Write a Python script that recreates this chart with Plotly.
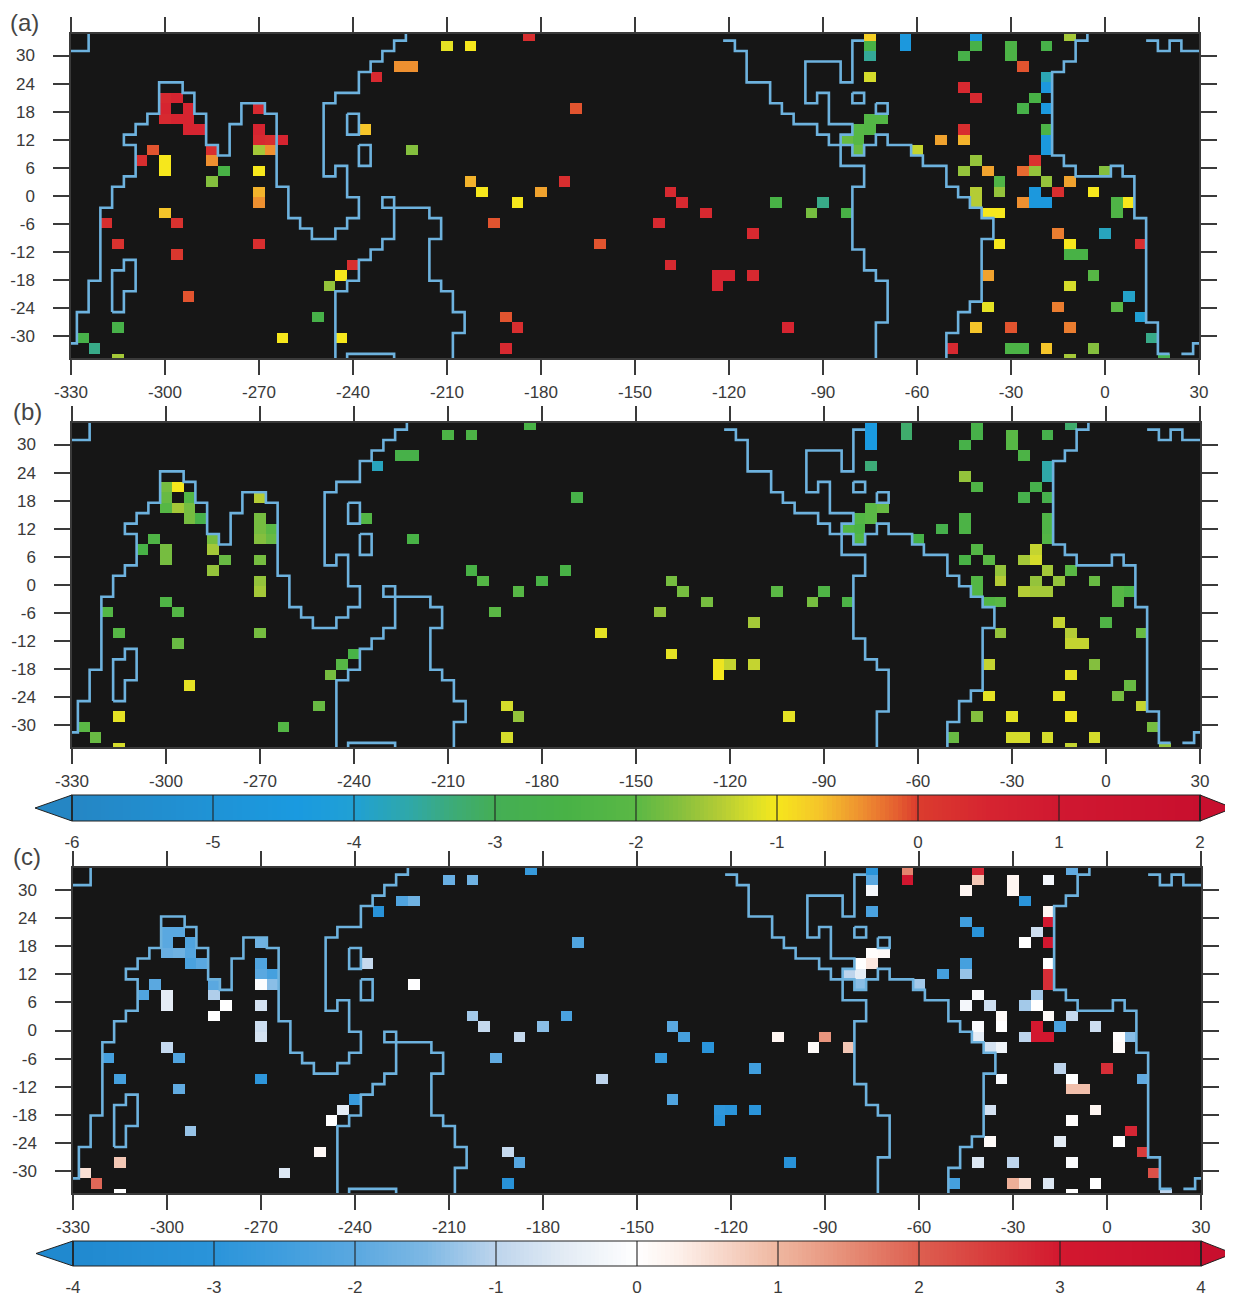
import numpy as np
import plotly.graph_objects as go

# ---- grid of the model (cell centres) ----
LON_START, LON_STEP, N_COLS = -330.0, 3.75, 97
LAT_START, LAT_STEP, N_ROWS = 34.30, -2.23, 32   # first row is index -1
LONS = [LON_START + LON_STEP * k for k in range(N_COLS)]
LATS = [LAT_START + LAT_STEP * r for r in range(N_ROWS)]

# ---- station cells: column, row (row -1 = top) and value in each panel ----
CELL_COLS = [
    39, 68, 71, 77, 85,
    32, 34, 68, 71, 77, 80, 83,
    68, 76, 80,
    28, 29, 81,
    26, 68, 83,
    76, 83,
    8, 9, 77, 82,
    8, 10, 16, 43, 81, 83,
    8, 9, 10, 68, 69,
    10, 11, 16, 25, 67, 68, 76, 83,
    16, 17, 18, 66, 67, 74, 76, 83,
    7, 12, 16, 17, 29, 67, 72, 83,
    6, 8, 12, 77, 82,
    8, 13, 16, 76, 78, 81, 82, 88,
    12, 34, 42, 79, 83, 85,
    16, 35, 40, 51, 77, 79, 82, 84, 87,
    16, 38, 52, 60, 64, 77, 81, 82, 83, 89, 90,
    8, 54, 63, 66, 78, 79, 89,
    3, 9, 36, 50,
    58, 84, 88,
    4, 16, 45, 79, 85, 91,
    9, 85, 86,
    24, 51,
    23, 55, 56, 58, 78, 87,
    22, 55, 85,
    10, 90,
    78, 84, 89,
    21, 37, 91,
    4, 38, 61, 77, 80, 85,
    1, 18, 23, 92,
    2, 37, 75, 80, 81, 83, 87,
    4, 85, 93,
]
CELL_ROWS = [
    -1, -1, -1, -1, -1,
    0, 0, 0, 0, 0, 0, 0,
    1, 1, 1,
    2, 2, 2,
    3, 3, 3,
    4, 4,
    5, 5, 5, 5,
    6, 6, 6, 6, 6, 6,
    7, 7, 7, 7, 7,
    8, 8, 8, 8, 8, 8, 8, 8,
    9, 9, 9, 9, 9, 9, 9, 9,
    10, 10, 10, 10, 10, 10, 10, 10,
    11, 11, 11, 11, 11,
    12, 12, 12, 12, 12, 12, 12, 12,
    13, 13, 13, 13, 13, 13,
    14, 14, 14, 14, 14, 14, 14, 14, 14,
    15, 15, 15, 15, 15, 15, 15, 15, 15, 15, 15,
    16, 16, 16, 16, 16, 16, 16,
    17, 17, 17, 17,
    18, 18, 18,
    19, 19, 19, 19, 19, 19,
    20, 20, 20,
    21, 21,
    22, 22, 22, 22, 22, 22,
    23, 23, 23,
    24, 24,
    25, 25, 25,
    26, 26, 26,
    27, 27, 27, 27, 27, 27,
    28, 28, 28, 28,
    29, 29, 29, 29, 29, 29, 29,
    30, 30, 30,
]
VALUES_A = [
    0.3, -0.8, -4.6, -4.6, -1.5,
    -1.1, -1.0, -2.5, -4.6, -2.6, -2.4, -2.6,
    -3.5, -2.6, -2.4,
    -0.4, -0.4, -0.1,
    0.4, -1.2, -3.7,
    0.4, -4.6,
    0.4, 0.5, 0.4, -2.5,
    0.5, 0.5, 0.4, -0.1, -2.6, -4.5,
    0.4, 0.5, 0.5, -2.2, -2.2,
    0.5, 0.5, 0.5, -0.7, -2.1, -2.2, 0.3, -2.4,
    0.4, 0.3, 0.5, -1.9, -2.1, -0.5, -0.6, -4.5,
    -0.1, 0.3, -1.5, -0.4, -1.7, -1.9, -1.3, -4.5,
    0.3, -1.0, -0.4, -1.6, 0.2,
    -1.0, -2.5, -1.0, -1.6, -0.5, -0.2, -1.6, -1.7,
    -1.7, -0.6, 0.3, -2.3, -1.6, -0.5,
    -0.6, -1.0, -0.5, 0.4, -1.4, -1.6, -4.6, 0.3, -1.0,
    -0.4, -1.0, 0.4, -2.5, -3.4, -1.4, -0.4, -4.6, -4.6, -2.3, -1.0,
    -0.7, 0.4, -1.8, -2.5, -1.0, -1.0, -2.3,
    0.3, 0.2, -0.1, 0.4,
    0.4, -0.3, -3.8,
    0.2, 0.3, -0.1, -1.0, -1.0, 0.3,
    0.1, -2.5, -2.5,
    0.3, 0.4,
    -1.0, 0.5, 0.5, 0.4, -0.5, -2.1,
    -1.6, 0.5, -1.2,
    -0.1, -3.9,
    -1.1, -0.3, -2.0,
    -2.6, -0.1, -4.0,
    -2.6, 0.3, 0.5, -0.7, -0.1, -0.3,
    -2.6, -1.0, -1.0, -3.4,
    -3.4, 0.4, 0.4, -2.4, -2.4, -0.7, -1.7,
    -1.5, -1.5, -2.8,
]
VALUES_B = [
    -2.5, -4.4, -3.2, -2.6, -3.2,
    -2.4, -2.4, -4.4, -3.2, -2.6, -2.0, -2.7,
    -4.4, -2.6, -2.1,
    -2.6, -2.6, -2.4,
    -3.8, -3.3, -3.6,
    -1.6, -3.6,
    -1.8, -1.0, -2.3, -2.7,
    -1.9, -2.2, -1.4, -2.6, -2.7, -2.7,
    -2.1, -1.5, -1.8, -2.0, -1.9,
    -1.8, -2.6, -1.8, -2.2, -2.2, -2.0, -2.4, -2.3,
    -1.8, -2.0, None, -2.2, -2.4, -2.7, -2.4, -2.3,
    -2.3, -1.8, -1.7, -1.9, -2.5, -2.2, -2.6, -2.2,
    -2.5, -1.8, -1.5, -2.2, -1.3,
    -1.8, -1.9, -1.8, -2.5, -2.0, -1.5, -1.2, None,
    -1.6, -2.5, -2.5, -1.6, -1.5, -2.0,
    -1.6, -2.2, -2.5, -1.8, -2.2, -1.4, -1.6, -1.6, -1.9,
    -1.5, -2.1, -1.8, -2.0, -2.3, -2.2, -1.4, -1.5, -1.5, -2.1, -2.4,
    -2.3, -1.8, -1.8, -2.4, -2.2, -2.0, -2.1,
    -2.2, -2.2, -2.0, -1.6,
    -1.5, -1.3, -2.3,
    -2.1, -1.8, -1.1, -1.6, -1.4, -1.9,
    -1.9, -1.3, -1.3,
    -2.5, -1.1,
    -2.1, -1.05, -1.3, -1.3, -1.3, -1.7,
    -1.8, -1.0, -1.1,
    -1.1, -1.9,
    -1.1, -1.1, -1.8,
    -1.9, -1.2, -1.3,
    -1.1, -1.6, -1.1, -1.7, -1.1, -1.05,
    -2.0, -2.2, None, -1.8,
    -1.9, -1.2, -1.9, -1.2, -1.2, -1.2, -1.2,
    -1.2, -1.3, -1.6,
]
VALUES_C = [
    -2.7, -3.0, 1.6, 2.8, -1.9,
    -1.8, -1.7, -2.0, 3.2, 0.8, 0.2, -0.2,
    -0.2, 0.2, 0.2,
    -2.2, -1.7, -3.0,
    -3.2, -2.3, 0.2,
    -2.5, 3.1,
    -2.0, -2.0, -3.1, -0.8,
    -2.0, -2.2, -1.7, -2.2, 0.0, 3.1,
    -1.8, -1.7, -2.1, 0.05, 0.1,
    -2.3, -2.0, -2.2, -0.9, 0.0, 0.4, -2.4, 0.0,
    -2.0, -2.4, None, -1.0, -0.5, -2.4, -1.3, 2.7,
    -2.0, -2.0, -0.05, -1.4, -0.02, -1.4, -1.2, 2.7,
    -2.2, -0.5, -1.1, -0.1, -1.2,
    -0.5, 0.0, -0.7, -0.2, -0.8, -1.2, 0.0, None,
    0.0, -1.2, -2.3, 0.1, 0.1, -0.9,
    -0.8, -0.9, -1.4, -2.0, -0.1, 0.0, 3.0, -2.3, -0.8,
    -0.7, -0.9, -2.4, 0.2, 1.4, -0.5, -1.0, 3.1, 3.1, 0.05, -1.4,
    -0.9, -3.0, 0.1, 0.8, -0.7, -0.3, 0.1,
    -2.4, -2.2, -1.9, -2.7,
    -2.5, -1.0, 2.7,
    -2.4, -2.9, -1.0, -0.1, 0.0, -1.9,
    -1.9, 0.9, 0.9,
    -2.7, -2.2,
    -0.5, -2.9, -3.0, -3.0, -0.7, 0.2,
    0.0, -3.0, 0.05,
    -1.3, 2.8,
    0.1, -0.5, 0.0,
    0.15, -0.9, 2.5,
    0.8, -2.1, -3.2, -0.6, -1.0, -0.1,
    0.5, -0.6, None, 2.2,
    1.9, -3.2, -2.4, 1.1, 0.5, -0.6, 0.0,
    0.0, 0.0, -1.0,
]

# ---- coastline, traced along the cell edges (edge column, edge row) ----
COAST_PATHS = [
    [(0.5, 1), (2, 1), (2, -1)],
    [(0.5, 29), (1, 29), (1, 26), (2, 26), (2, 23), (3, 23), (3, 16), (4, 16), (4, 14), (5, 14), (5, 13),
     (6, 13), (6, 10), (5, 10), (5, 9), (6, 9), (6, 8), (7, 8), (7, 7), (8, 7), (8, 4), (10, 4), (10, 5),
     (11, 5), (11, 7), (12, 7), (12, 10), (13, 10), (13, 11), (14, 11), (14, 8), (15, 8), (15, 6), (17, 6),
     (17, 7), (18, 7), (18, 14), (19, 14), (19, 17), (20, 17), (20, 18), (21, 18), (21, 19), (23, 19),
     (23, 18), (24, 18), (24, 17), (25, 17), (25, 15), (24, 15), (24, 12), (23, 12), (23, 13), (22, 13),
     (22, 6), (23, 6), (23, 5), (25, 5), (25, 3), (26, 3), (26, 2), (27, 2), (27, 1), (28, 1), (28, 0),
     (29, 0), (29, -1)],
    [(24, 7), (25, 7), (25, 9), (24, 9), (24, 7)],
    [(25, 10), (26, 10), (26, 12), (25, 12), (25, 10)],
    [(23, 31), (23, 24), (24, 24), (24, 23), (25, 23), (25, 21), (26, 21), (26, 20), (27, 20), (27, 19),
     (28, 19), (28, 15), (27, 15), (27, 16), (31, 16), (31, 17), (32, 17), (32, 19), (31, 19), (31, 23),
     (32, 23), (32, 24), (33, 24), (33, 26), (34, 26), (34, 28), (33, 28), (33, 31)],
    [(24, 31), (24, 30), (28, 30), (28, 31)],
    [(4, 26), (4, 22), (5, 22), (5, 21), (6, 21), (6, 24), (5, 24), (5, 26), (4, 26)],
    [(56, 0), (57, 0), (57, 1), (58, 1), (58, 4), (60, 4), (60, 6), (61, 6), (61, 7), (62, 7), (62, 8),
     (64, 8), (64, 9), (65, 9), (65, 10), (66, 10), (66, 12), (68, 12), (68, 14), (67, 14), (67, 20),
     (68, 20), (68, 22), (69, 22), (69, 23), (70, 23), (70, 27), (69, 27), (69, 31)],
    [(68, 0), (67, 0), (67, 4), (66, 4), (66, 2), (63, 2), (63, 6), (64, 6), (64, 5), (65, 5), (65, 8),
     (67, 8), (67, 9), (66, 9), (66, 10)],
    [(66, 10), (67, 10), (67, 11), (68, 11), (68, 10), (69, 10), (69, 9), (70, 9), (70, 10), (72, 10),
     (72, 11), (73, 11), (73, 12), (75, 12), (75, 14), (76, 14), (76, 15), (77, 15), (77, 16), (78, 16),
     (78, 17), (79, 17), (79, 19), (78, 19), (78, 25), (77, 25), (77, 26), (76, 26), (76, 28), (75, 28),
     (75, 31)],
    [(67, 5), (68, 5), (68, 6), (67, 6), (67, 5)],
    [(69, 6), (70, 6), (70, 7), (69, 7), (69, 6)],
    [(87, -1), (87, 0), (86, 0), (86, 2), (85, 2), (85, 3), (84, 3), (84, 11), (85, 11), (85, 12), (86, 12),
     (86, 13), (89, 13), (89, 12), (90, 12), (90, 13), (91, 13), (91, 17), (92, 17), (92, 27), (93, 27),
     (93, 30), (94, 30)],
    [(95, 30), (96, 30), (96, 29), (96.5, 29)],
    [(92, 0), (93, 0), (93, 1), (94, 1), (94, 0), (95, 0), (95, 1), (96.5, 1)],
]

# ---- axes and colour bars ----
X_TICKS = [-330, -300, -270, -240, -210, -180, -150, -120, -90, -60, -30, 0, 30]
Y_TICKS = [30, 24, 18, 12, 6, 0, -6, -12, -18, -24, -30]
PANEL_LABELS = ["(a)", "(b)", "(c)"]

AB_STOPS = [-6, -5, -4.4, -4, -3.6, -3.3, -3, -2.5, -2, -1.7, -1.4, -1.15, -1, -0.7, -0.4, -0.15, 0, 0.5, 1, 2]
AB_COLORS = ["#2586c4", "#1f93d6", "#1a9ae0", "#20a0d4", "#2fa8a8", "#3dab78", "#44ae55", "#48b246", "#5ab845",
             "#84bf3e", "#b4cc35", "#dde028", "#f6e71c", "#f5c52a", "#ee9030", "#e56030", "#db3c2e", "#d62430",
             "#d01830", "#c80f2e"]
C_STOPS = [-4, -3, -2.5, -2, -1.5, -1, -0.5, 0, 0.3, 0.7, 1, 1.5, 2, 2.5, 3, 4]
C_COLORS = ["#2089cf", "#2a94da", "#409ede", "#5aa8e0", "#7db8e4", "#bdd4ec", "#e4ecf5", "#ffffff", "#fdf0ea",
            "#f5cfc0", "#efb7a0", "#e68d76", "#dd5f50", "#d83c3c", "#d3182f", "#c80f2e"]
AB_TICKS = [-6, -5, -4, -3, -2, -1, 0, 1, 2]
C_TICKS = [-4, -3, -2, -1, 0, 1, 2, 3, 4]

PAGE_MARGIN = 8                         # the page's own body margin
W, H = 1233 - PAGE_MARGIN, 1293 - PAGE_MARGIN
FONT = "Liberation Sans, Arial, sans-serif"
COAST_COLOR = "#6db2de"
BG = "#161616"
INK = "#3a3a3a"


def px(x):
    return (x - PAGE_MARGIN) / W


def py(y):
    return 1 - (y - PAGE_MARGIN) / H


def colorscale(stops, colors):
    lo, hi = stops[0], stops[-1]
    return [[(s - lo) / (hi - lo), c] for s, c in zip(stops, colors)]


def grid(values):
    z = [[None] * N_COLS for _ in range(N_ROWS)]
    for k, r, v in zip(CELL_COLS, CELL_ROWS, values):
        z[r + 1][k] = v
    return z


coast_lon, coast_lat = [], []
for path in COAST_PATHS:
    for n, m in path:
        coast_lon.append(-331.875 + LON_STEP * n)
        coast_lat.append(33.185 + LAT_STEP * m)
    coast_lon.append(None)
    coast_lat.append(None)

fig = go.Figure()
panels = [
    (71, 1199, 34, 358, VALUES_A, AB_STOPS, AB_COLORS, (24, 23)),
    (72, 1200, 423, 747, VALUES_B, AB_STOPS, AB_COLORS, (27, 411)),
    (73, 1201, 868, 1193, VALUES_C, C_STOPS, C_COLORS, (27, 856)),
]
layout = {}
annotations = []
shapes = []
for i, (x0, x1, y0, y1, vals, stops, colors, lab) in enumerate(panels):
    s = "" if i == 0 else str(i + 1)
    shapes.append(dict(type="rect", xref=f"x{s} domain", yref=f"y{s} domain", x0=0, x1=1, y0=0, y1=1,
                       fillcolor=BG, line=dict(width=0), layer="below"))
    fig.add_trace(go.Heatmap(x=LONS, y=LATS, z=grid(vals), zmin=stops[0], zmax=stops[-1],
                             colorscale=colorscale(stops, colors), showscale=False,
                             hoverongaps=False, xaxis="x" + s, yaxis="y" + s))
    fig.add_trace(go.Scatter(x=coast_lon, y=coast_lat, mode="lines", showlegend=False, hoverinfo="skip",
                             line=dict(color=COAST_COLOR, width=2.6, shape="linear"),
                             xaxis="x" + s, yaxis="y" + s))
    layout["xaxis" + s] = dict(
        domain=[px(x0), px(x1)], range=[X_TICKS[0], X_TICKS[-1]], anchor="y" + s,
        tickmode="array", tickvals=X_TICKS, ticktext=[str(t) for t in X_TICKS],
        ticks="outside", ticklen=15, tickwidth=1.5, tickcolor=INK, ticklabelstandoff=3,
        showline=True, linecolor=INK, linewidth=1.5, mirror="ticks",
        showgrid=False, zeroline=False, tickfont=dict(family=FONT, size=17, color=INK))
    layout["yaxis" + s] = dict(
        domain=[py(y1), py(y0)], range=[-34.6, 34.6], anchor="x" + s,
        tickmode="array", tickvals=Y_TICKS, ticktext=[str(t) for t in Y_TICKS],
        ticks="outside", ticklen=16, tickwidth=1.5, tickcolor=INK, ticklabelstandoff=15,
        showline=True, linecolor=INK, linewidth=1.5, mirror="ticks",
        showgrid=False, zeroline=False, tickfont=dict(family=FONT, size=17, color=INK))
    annotations.append(dict(text=PANEL_LABELS[i], xref="paper", yref="paper", x=px(lab[0]), y=py(lab[1]),
                            xanchor="center", yanchor="middle", showarrow=False,
                            font=dict(family=FONT, size=24, color="#454545")))

bars = [
    (4, AB_STOPS, AB_COLORS, AB_TICKS, 72, 1200, 795, 821, 35, 1233),
    (5, C_STOPS, C_COLORS, C_TICKS, 73, 1201, 1241, 1266, 36, 1233),
]
for n, stops, colors, ticks, x0, x1, y0, y1, tip0, tip1 in bars:
    s = str(n)
    lo, hi = stops[0], stops[-1]
    per_px = (hi - lo) / (x1 - x0)
    left, right = lo - (x0 - tip0) * per_px, hi + (tip1 - x1) * per_px
    ramp = np.linspace(lo, hi, 257)
    fig.add_trace(go.Heatmap(x=ramp, y=[0.25, 0.75], z=[ramp, ramp], zmin=lo, zmax=hi,
                             colorscale=colorscale(stops, colors), showscale=False, hoverinfo="skip",
                             xaxis="x" + s, yaxis="y" + s))
    for xs, col in (([lo, left, lo, lo], colors[0]), ([hi, right, hi, hi], colors[-1])):
        fig.add_trace(go.Scatter(x=xs, y=[0, 0.5, 1, 0], mode="lines", fill="toself", fillcolor=col,
                                 line=dict(color="#222222", width=1), showlegend=False, hoverinfo="skip",
                                 xaxis="x" + s, yaxis="y" + s))
    dx, dy = [lo, hi, hi, lo, lo, None], [0, 0, 1, 1, 0, None]
    for t in ticks:
        dx += [t, t, None]
        dy += [0, 1, None]
    fig.add_trace(go.Scatter(x=dx, y=dy, mode="lines", line=dict(color="#222222", width=1.1),
                             showlegend=False, hoverinfo="skip", xaxis="x" + s, yaxis="y" + s))
    layout["xaxis" + s] = dict(
        domain=[px(tip0), px(tip1)], range=[left, right], anchor="y" + s,
        tickmode="array", tickvals=ticks, ticktext=[str(t) for t in ticks],
        ticks="", ticklabelstandoff=8, showline=False, showgrid=False, zeroline=False,
        tickfont=dict(family=FONT, size=17, color=INK))
    layout["yaxis" + s] = dict(
        domain=[py(y1 + 1), py(y0 - 1)], range=[-1 / (y1 - y0), 1 + 1 / (y1 - y0)], anchor="x" + s,
        showticklabels=False, ticks="", showline=False, showgrid=False, zeroline=False)

fig.update_layout(width=W, height=H, margin=dict(l=0, r=0, t=0, b=0, autoexpand=False), paper_bgcolor="white",
                  plot_bgcolor="white", showlegend=False, annotations=annotations, shapes=shapes, **layout)
fig.write_html("out.html")
